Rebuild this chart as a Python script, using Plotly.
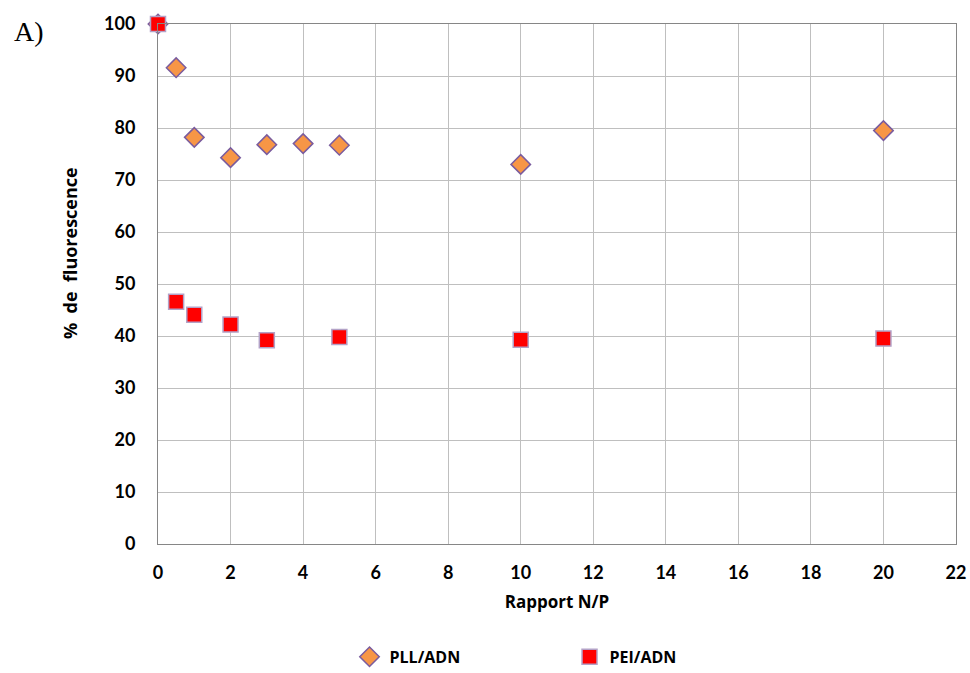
import plotly.graph_objects as go

pll_x = [0, 0.5, 1, 2, 3, 4, 5, 10, 20]
pll_y = [100, 91.6, 78.2, 74.3, 76.8, 77.0, 76.7, 73.0, 79.5]
pei_x = [0, 0.5, 1, 2, 3, 5, 10, 20]
pei_y = [100, 46.6, 44.1, 42.2, 39.2, 39.8, 39.3, 39.5]
x_ticks = list(range(0, 23, 2))
y_ticks = list(range(0, 101, 10))

FONT = "Lato, Open Sans, Arial"
TFONT = "Open Sans, Lato, Arial"

fig = go.Figure()
fig.add_trace(go.Scatter(
    x=pll_x, y=pll_y, mode="markers", name="PLL/ADN", cliponaxis=False,
    marker=dict(symbol="diamond", size=15, color="#F79646",
                line=dict(color="#7A5C9E", width=1.5)),
))
fig.add_trace(go.Scatter(
    x=pei_x, y=pei_y, mode="markers", name="PEI/ADN", cliponaxis=False,
    marker=dict(symbol="square", size=15, color="#FF0000",
                line=dict(color="#B3A2C7", width=1.5)),
))

fig.update_layout(
    width=970, height=673,
    margin=dict(l=158, r=14, t=24, b=129, autoexpand=False),
    plot_bgcolor="white", paper_bgcolor="white",
    showlegend=True,
    legend=dict(orientation="h", x=0.240, xanchor="left", y=-0.217, yanchor="middle",
                font=dict(family=TFONT, size=16, color="black", weight="bold"),
                itemwidth=30,
                entrywidthmode="pixels", entrywidth=175),
    xaxis=dict(range=[0, 22], tickvals=x_ticks, showgrid=True, gridcolor="#BFBFBF",
               gridwidth=1, showline=True, linecolor="#868686", linewidth=1, mirror=True,
               zeroline=False, ticks="outside", ticklen=12, tickcolor="rgba(0,0,0,0)",
               automargin=False,
               tickfont=dict(family=FONT, size=18, color="black", weight="bold"),
               title=dict(text="Rapport N/P",
                          font=dict(family=TFONT, size=17, color="black", weight="bold"),
                          standoff=14)),
    yaxis=dict(range=[0, 100], tickvals=y_ticks, showgrid=True, gridcolor="#BFBFBF",
               gridwidth=1, showline=True, linecolor="#868686", linewidth=1, mirror=True,
               zeroline=False, ticks="outside", ticklen=18, tickcolor="rgba(0,0,0,0)",
               automargin=False,
               tickfont=dict(family=FONT, size=18, color="black", weight="bold")),
)

fig.add_annotation(text="%\u00a0\u00a0de\u00a0\u00a0fluorescence", textangle=-90,
                   x=-0.11, y=0.56, xref="paper", yref="paper",
                   xanchor="center", yanchor="middle", showarrow=False,
                   font=dict(family=TFONT, size=18, color="black", weight="bold"))

fig.add_annotation(text="A)", x=-0.183, y=1.02, xref="paper", yref="paper",
                   xanchor="left", yanchor="top", showarrow=False,
                   font=dict(family="Liberation Serif, DejaVu Serif", size=28, color="black"))

fig.write_html("out.html", config={"displayModeBar": False},
               post_script="document.body.style.margin='0px';document.body.style.overflow='hidden';")
